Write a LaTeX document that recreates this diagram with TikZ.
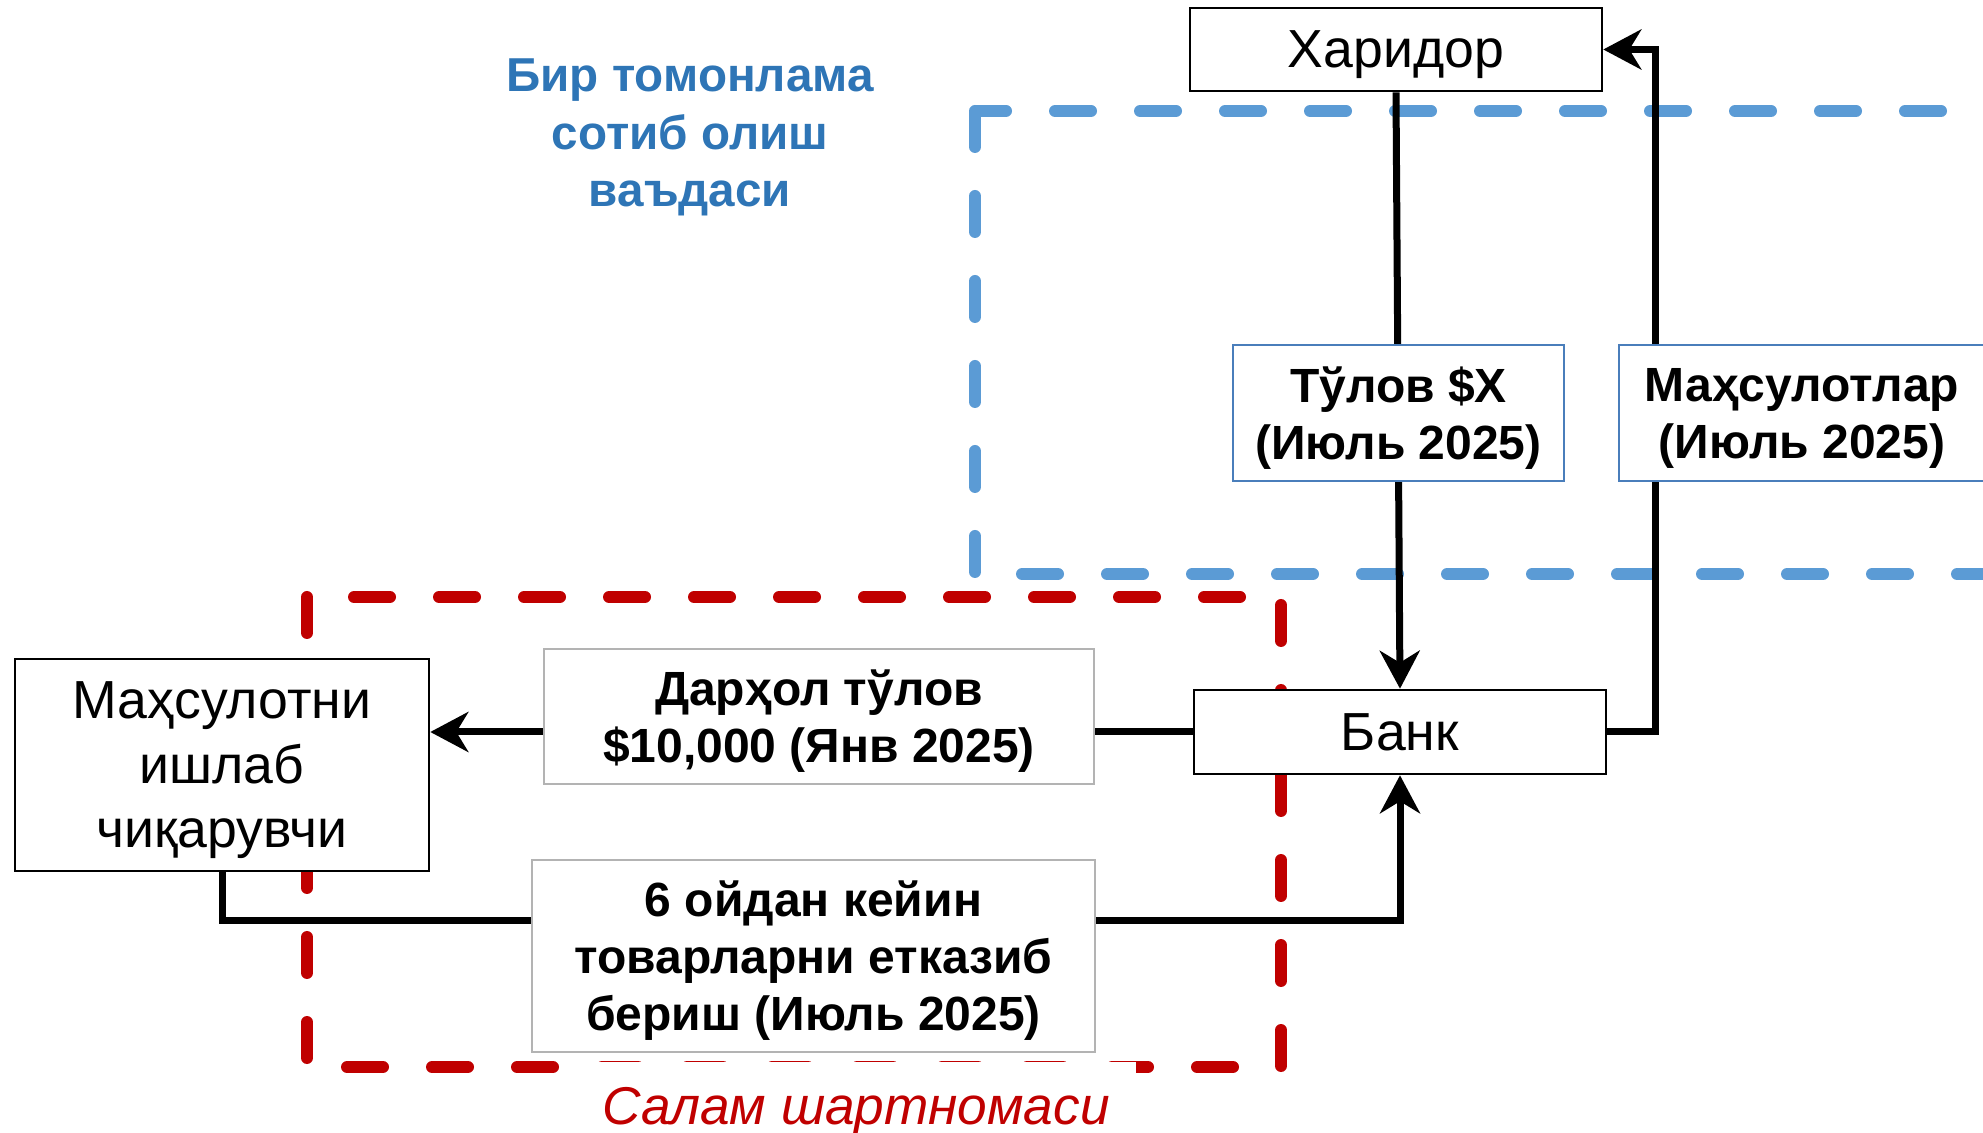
\documentclass[tikz,border=0pt]{standalone}
\usepackage{fontspec}
\setmainfont{Liberation Sans}
\usetikzlibrary{arrows.meta}
\definecolor{bluedash}{HTML}{5B9BD5}
\definecolor{bluetext}{HTML}{2E75B6}
\definecolor{redc}{HTML}{C00000}
\definecolor{lblblue}{HTML}{4A7EBB}
\definecolor{lblgray}{HTML}{B3B3B3}
\tikzset{
  party/.style={draw=black, line width=1.3pt, fill=white, align=center, inner sep=0pt, text depth=0pt,
    font=\fontsize{26.8}{32.25}\selectfont},
  bluelbl/.style={draw=lblblue, line width=1.2pt, fill=white, align=center, inner sep=0pt, text depth=0pt,
    font=\bfseries\fontsize{24}{28.5}\selectfont},
  graylbl/.style={draw=lblgray, line width=1.4pt, fill=white, align=center, inner sep=0pt, text depth=0pt,
    font=\bfseries\fontsize{24}{28.5}\selectfont},
  conn/.style={line width=3.5pt, -{Stealth[length=19pt,width=20pt,inset=6pt]}},
  bluedashed/.style={draw=bluedash, line width=6pt, line cap=round, dash pattern=on 18pt off 24.5pt},
  reddashed/.style={draw=redc, line width=6pt, line cap=round, dash pattern=on 18pt off 24.5pt},
}
\begin{document}
\begin{tikzpicture}[x=0.5pt,y=-0.5pt]
\useasboundingbox (0,0) rectangle (1983,1133);
\clip (0,0) rectangle (1983,1133);

% blue dashed frame (runs off the right edge)
\draw[bluedashed] (975,111) rectangle (2100,574);

% parties
\node[party, minimum width=206pt, minimum height=41.5pt] (haridor) at (1396,49.5) {Харидор};
\node[party, minimum width=206pt, minimum height=42pt] (bank) at (1400,732) {Банк};
\node[party, minimum width=207pt, minimum height=106pt] (producer) at (222,765) {Маҳсулотни\\ишлаб\\чиқарувчи};

% connectors
\draw[conn] (haridor.south) -- (bank.north);
\draw[conn] (bank.east) -- ++(48,0) |- (haridor.east);
\draw[conn] (bank.west) -- (bank.west -| producer.east);
\draw[conn] (producer.south) -- ++(0,48) -| (bank.south);

% red dashed frame
\draw[reddashed] (307,597) rectangle (1281,1067);

% redraw parties over red frame
\node[party, minimum width=206pt, minimum height=42pt] at (bank) {Банк};
\node[party, minimum width=207pt, minimum height=106pt] at (producer) {Маҳсулотни\\ишлаб\\чиқарувчи};

% connector labels
\node[bluelbl, minimum width=165.5pt, minimum height=68pt] (tulov) at (1398.5,413) {Тўлов \$X\\(Июль 2025)};
\node[bluelbl, minimum width=183pt, minimum height=68pt] (mahs) at (1802,413) {Маҳсулотлар\\(Июль 2025)};
\node[graylbl, minimum width=275pt, minimum height=67.5pt] (darhol) at (819,716.5) {Дарҳол тўлов\\\$10,000 (Янв 2025)};
\node[graylbl, minimum width=281.5pt, minimum height=96pt] (olti) at (813.5,956) {6 ойдан кейин\\товарларни етказиб\\бериш (Июль 2025)};

% frame titles
\node[text=bluetext, align=center, text depth=0pt, font=\bfseries\fontsize{23.8}{28.75}\selectfont] (title) at (690,133) {Бир томонлама\\сотиб олиш\\ваъдаси};
\node[fill=white, text=redc, anchor=base, inner sep=0pt, text height=31pt, minimum width=280pt,
  font=\itshape\fontsize{26.6}{31}\selectfont] (salam) at (856,1124) {Салам шартномаси};
\end{tikzpicture}
\end{document}
